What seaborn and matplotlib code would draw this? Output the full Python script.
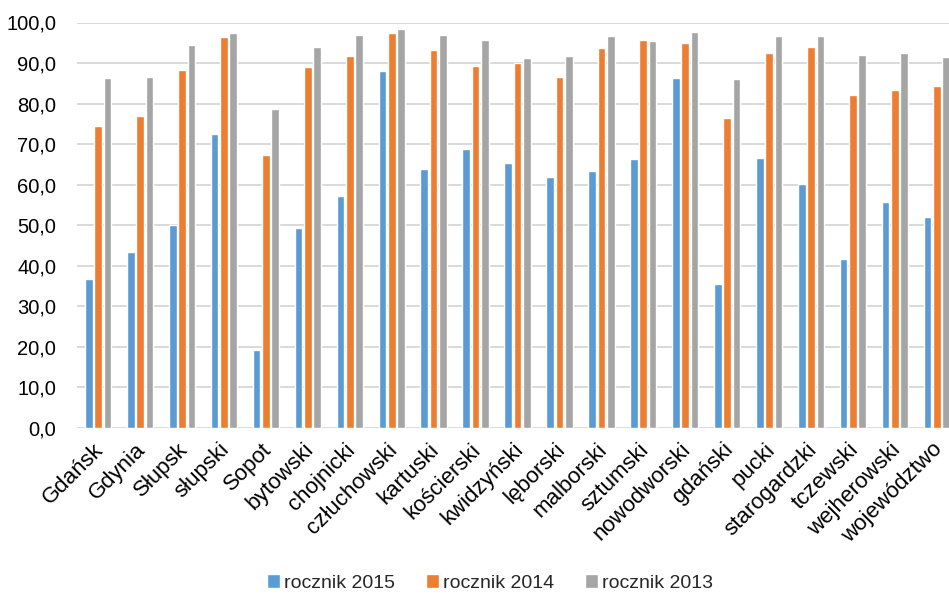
import matplotlib
matplotlib.use("Agg")
import matplotlib.pyplot as plt
import matplotlib.ticker as mticker
import matplotlib.transforms as mtransforms
import seaborn as sns
import pandas as pd

regions = ["Gdańsk", "Gdynia", "Słupsk", "słupski", "Sopot", "bytowski", "chojnicki",
           "człuchowski", "kartuski", "kościerski", "kwidzyński", "lęborski", "malborski",
           "sztumski", "nowodworski", "gdański", "pucki", "starogardzki", "tczewski",
           "wejherowski", "województwo"]

rocznik_2015 = [36.8, 43.4, 50.1, 72.6, 19.2, 49.3, 57.2, 88.1, 63.8, 68.8, 65.3,
                61.8, 63.3, 66.4, 86.2, 35.5, 66.5, 60.1, 41.6, 55.8, 52.0]
rocznik_2014 = [74.4, 77.0, 88.2, 96.5, 67.4, 89.0, 91.7, 97.4, 93.3, 89.3, 90.1,
                86.6, 93.8, 95.6, 95.0, 76.5, 92.4, 93.9, 82.1, 83.4, 84.4]
rocznik_2013 = [86.4, 86.5, 94.5, 97.5, 78.7, 93.9, 96.9, 98.4, 97.0, 95.6, 91.2,
                91.7, 96.7, 95.5, 97.7, 86.0, 96.6, 96.7, 92.0, 92.5, 91.6]

series_names = ["rocznik 2015", "rocznik 2014", "rocznik 2013"]
colors = ["#5B9BD5", "#ED7D31", "#A5A5A5"]

df = pd.DataFrame({
    "region": regions * 3,
    "seria": [series_names[0]] * len(regions) + [series_names[1]] * len(regions)
             + [series_names[2]] * len(regions),
    "wartosc": rocznik_2015 + rocznik_2014 + rocznik_2013,
})

sns.set_theme(style="white")
plt.rcParams["font.family"] = ["Liberation Sans", "DejaVu Sans"]

fig = plt.figure(figsize=(9.49, 5.94), dpi=100)
ax = fig.add_axes([77.2 / 949, 1 - 428 / 594, 880.6 / 949, (428 - 22.5) / 594])

sns.barplot(data=df, x="region", y="wartosc", hue="seria", order=regions,
            hue_order=series_names, palette=colors, width=0.668, gap=0.18,
            saturation=1, ax=ax, legend=True, zorder=3)

ax.set_xlim(-0.5, len(regions) - 0.5)
ax.set_ylim(0, 100)
ax.yaxis.set_major_locator(mticker.MultipleLocator(10))
ax.yaxis.set_major_formatter(mticker.FuncFormatter(lambda v, _: f"{v:.1f}".replace(".", ",")))
ax.grid(axis="y", color="#D9D9D9", linewidth=1.4, zorder=0)
ax.set_axisbelow(True)
for s in ax.spines.values():
    s.set_visible(False)
ax.set_xlabel("")
ax.set_ylabel("")
ax.tick_params(axis="y", length=0, pad=15, labelsize=14.5, labelcolor="#000000")
ax.tick_params(axis="x", length=0, pad=8, labelsize=16, labelcolor="#000000")

# rotated category names ending at each group centre
shift = mtransforms.ScaledTranslation(-5 / 100, 0, fig.dpi_scale_trans)
for lbl in ax.get_xticklabels():
    lbl.set_rotation(45)
    lbl.set_ha("right")
    lbl.set_va("top")
    lbl.set_rotation_mode("anchor")
    lbl.set_transform(lbl.get_transform() + shift)

handles, labels = ax.get_legend_handles_labels()
ax.legend_.remove()
fig.legend(handles, labels, loc="center", bbox_to_anchor=(490 / 949, 1 - 583 / 594),
           ncol=3, frameon=False, fontsize=14, handlelength=0.68, handleheight=0.68,
           handletextpad=0.2, columnspacing=1.6, borderpad=0.2)

fig.savefig("out.png", dpi=100)
